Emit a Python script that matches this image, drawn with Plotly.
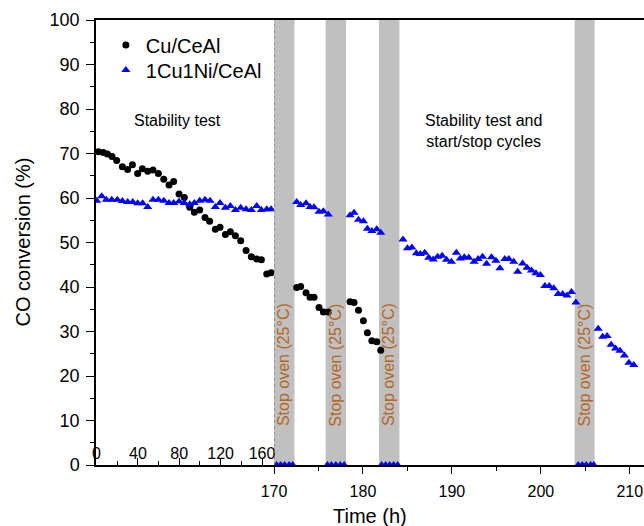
import plotly.graph_objects as go

# ---------------- data ----------------
# Stability test section (0-170 h)
cu_t1 = [1.8, 6.6, 10.5, 15.0, 19.5, 25.0, 30.1, 34.7, 39.8, 44.3, 49.5, 54.6, 59.8, 65.0, 70.1,
         74.6, 79.8, 84.9, 90.1, 94.6, 99.8, 104.9, 109.4, 114.9, 119.4, 124.6, 129.4, 134.3,
         139.4, 144.6, 149.7, 154.9, 159.4, 164.6, 168.8]
cu_v1 = [70.4, 70.2, 69.9, 69.3, 68.4, 67.0, 66.4, 67.5, 65.5, 66.6, 66.0, 66.3, 65.5, 64.2, 62.9,
         63.7, 60.9, 60.1, 57.9, 56.8, 57.3, 55.6, 54.8, 53.0, 53.4, 51.8, 52.4, 51.5,
         50.4, 48.2, 46.8, 46.3, 46.1, 42.9, 43.2]

ni_t1 = [0.2, 5.0, 9.5, 14.7, 20.1, 25.0, 30.1, 35.0, 39.8, 44.6, 49.5, 54.6, 59.8, 65.0, 70.1,
         74.6, 79.8, 84.9, 90.1, 94.6, 99.8, 104.9, 109.8, 114.9, 119.4, 124.6, 129.4, 134.3,
         139.4, 144.6, 149.7, 154.9, 159.4, 164.6, 168.8]
ni_v1 = [59.4, 60.4, 59.6, 59.6, 59.6, 59.3, 59.1, 59.1, 58.8, 58.8, 58.0, 59.6, 59.6, 59.4, 58.9,
         58.9, 59.2, 58.9, 58.6, 58.9, 59.4, 59.6, 59.4, 58.0, 58.9, 57.8, 58.2, 57.3,
         57.8, 57.5, 57.3, 58.2, 57.3, 57.5, 57.5]

# Stability test and start/stop cycles (170-210 h)
cu_t2 = [172.55, 173.0, 173.6, 174.05, 174.5, 175.06, 175.55, 176.1,
         178.55, 179.0, 179.5, 180.05, 180.5, 181.0, 181.55, 182.0]
cu_v2 = [39.9, 40.1, 38.7, 37.7, 37.7, 35.4, 34.4, 34.4,
         36.7, 36.5, 34.8, 32.4, 29.7, 27.9, 27.7, 25.8]

ni_t2 = [172.55, 173.0, 173.6, 174.05, 174.5, 175.06, 175.55, 176.1,
         178.55, 179.0, 179.5, 180.05, 180.5, 181.0, 181.55, 182.0,
         184.5, 185.0, 185.5, 186.0, 186.45, 186.95, 187.4, 187.9, 188.4, 188.9, 189.4, 189.95,
         190.5, 190.95, 191.4, 191.9, 192.5, 192.95, 193.45, 193.9, 194.45, 194.95, 195.4, 195.95,
         196.4, 196.95, 197.4, 197.95, 198.45, 198.95, 199.45, 199.95, 200.45, 200.95, 201.45,
         201.95, 202.45, 202.95, 203.45, 203.95,
         206.45, 206.95, 207.45, 207.9, 208.4, 208.9, 209.4, 209.9, 210.45]
ni_v2 = [59.1, 58.4, 58.8, 58.0, 57.9, 56.9, 57.0, 56.3,
         56.1, 56.7, 55.1, 54.8, 53.1, 52.6, 53.0, 52.2,
         50.7, 48.7, 48.9, 47.6, 47.4, 47.7, 46.6, 46.2, 46.8, 47.0, 46.1, 45.7,
         47.7, 46.4, 46.7, 46.6, 45.7, 46.3, 46.8, 45.2, 46.7, 45.9, 44.2, 46.3,
         46.3, 45.7, 43.4, 45.3, 44.3, 43.7, 43.1, 42.7, 40.2, 40.2, 39.7,
         38.4, 38.4, 38.1, 38.9, 36.5,
         30.6, 28.8, 29.0, 27.0, 26.2, 25.7, 24.6, 23.0, 22.5]

# oven stopped: zero conversion
stop_t = [170.3, 170.75, 171.2, 171.7, 172.1,
          176.0, 176.45, 176.95, 177.45, 177.9,
          182.1, 182.55, 183.0, 183.45, 183.9,
          204.2, 204.65, 205.1, 205.6, 205.95]
stop_v = [0, 0, 0, 0, 0,
          0, 0, 0, 0, 0,
          0, 0, 0, 0, 0,
          0, 0, 0, 0, 0]

band_start = [170.0, 175.8, 181.8, 203.8]
band_end = [172.3, 178.1, 184.1, 206.05]
band_label = "Stop oven (25°C)"

left_ticks = [0, 40, 80, 120, 160]
right_ticks = [170, 180, 190, 200, 210]
y_ticks = [0, 10, 20, 30, 40, 50, 60, 70, 80, 90, 100]

# ---------------- figure ----------------
FONT = "Arial, Liberation Sans, sans-serif"
BLACK = "#000000"
BLUE = "#0000ff"
BROWN = "#b4661f"

fig = go.Figure()

circ = dict(symbol="circle", size=7, color=BLACK)
tri = dict(symbol="triangle-up", size=8, color=BLUE)

fig.add_trace(go.Scatter(x=cu_t1, y=cu_v1, mode="markers", marker=circ, name="Cu/CeAl",
                         xaxis="x", yaxis="y", legend="legend", showlegend=True))
fig.add_trace(go.Scatter(x=ni_t1, y=ni_v1, mode="markers", marker=tri, name="1Cu1Ni/CeAl",
                         xaxis="x", yaxis="y", legend="legend2", showlegend=True))
fig.add_trace(go.Scatter(x=cu_t2, y=cu_v2, mode="markers", marker=circ, name="Cu/CeAl",
                         xaxis="x2", yaxis="y", showlegend=False))
fig.add_trace(go.Scatter(x=ni_t2, y=ni_v2, mode="markers", marker=tri, name="1Cu1Ni/CeAl",
                         xaxis="x2", yaxis="y", showlegend=False))
fig.add_trace(go.Scatter(x=stop_t, y=stop_v, mode="markers", marker=tri, name="1Cu1Ni/CeAl",
                         xaxis="x2", yaxis="y", showlegend=False))
# empty helper trace so the tick-label axis for the 0-170 h segment is drawn
fig.add_trace(go.Scatter(x=[None], y=[None], mode="markers", xaxis="x3", yaxis="y",
                         showlegend=False, hoverinfo="skip"))

shapes = []
for s, e in zip(band_start, band_end):
    shapes.append(dict(type="rect", xref="x2", yref="paper", x0=s, x1=e, y0=0, y1=1,
                       fillcolor="#c0c0c0", line=dict(width=0), layer="below"))
shapes.append(dict(type="line", xref="x2", yref="paper", x0=170, x1=170, y0=0, y1=1,
                   line=dict(color="#808080", width=1.5, dash="dot"), layer="above"))

annotations = [
    dict(text="Stability test", x=78, y=77.4, xref="x", yref="y", showarrow=False,
         font=dict(family=FONT, size=16, color=BLACK)),
    dict(text="Stability test and<br>start/stop cycles", x=193.5, y=75, xref="x2", yref="y",
         showarrow=False, font=dict(family=FONT, size=16, color=BLACK)),
    dict(text="Time (h)", x=0.5, y=-51 / 445, xref="paper", yref="paper", showarrow=False,
         xanchor="center", yanchor="middle", font=dict(family=FONT, size=20, color=BLACK)),
    dict(text="CO conversion (%)", x=-74 / 548, y=0.5, xref="paper", yref="paper", showarrow=False,
         xanchor="center", yanchor="middle", textangle=-90,
         font=dict(family=FONT, size=20, color=BLACK)),
]
for s, e in zip(band_start, band_end):
    annotations.append(dict(text=band_label, x=(s + e) / 2, y=22.5, xref="x2", yref="y",
                            textangle=-90, showarrow=False,
                            font=dict(family=FONT, size=16, color=BROWN)))

split = (274 - 96) / 548.0

fig.update_layout(
    width=644, height=526,
    margin=dict(l=96, r=0, t=20, b=61, autoexpand=False),
    paper_bgcolor="white", plot_bgcolor="white",
    font=dict(family=FONT, color=BLACK),
    shapes=shapes, annotations=annotations,
    showlegend=True,
    legend=dict(x=0.018, y=(465 - 45) / 445, xanchor="left", yanchor="middle",
                font=dict(family=FONT, size=20, color=BLACK), bgcolor="rgba(0,0,0,0)"),
    legend2=dict(x=0.018, y=(465 - 70) / 445, xanchor="left", yanchor="middle",
                 font=dict(family=FONT, size=20, color=BLACK), bgcolor="rgba(0,0,0,0)"),
    xaxis=dict(domain=[0, split], range=[-0.5, 171.6], anchor="y", automargin=False,
               tickmode="array", tickvals=left_ticks, ticks="inside", ticklen=7,
               tickwidth=1.2, tickcolor=BLACK, showticklabels=False,
               minor=dict(dtick=20, tick0=0, ticks="inside", ticklen=4, tickcolor=BLACK, tickwidth=1.2),
               showline=True, linecolor=BLACK, linewidth=1.5, mirror=True,
               showgrid=False, zeroline=False),
    xaxis3=dict(overlaying="x", range=[-0.5, 171.6], anchor="free", position=0.051,
                automargin=False, tickmode="array", tickvals=left_ticks, ticks="",
                tickfont=dict(family=FONT, size=16, color=BLACK),
                showline=False, showgrid=False, zeroline=False),
    xaxis2=dict(domain=[split, 1], range=[170, 211.6], anchor="y", automargin=False,
                tickmode="array", tickvals=right_ticks, ticks="outside", ticklen=7,
                tickwidth=1.2, tickcolor=BLACK,
                tickfont=dict(family=FONT, size=16, color=BLACK),
                ticklabelstandoff=4,
                minor=dict(dtick=5, tick0=170, ticks="outside", ticklen=4, tickcolor=BLACK, tickwidth=1.2),
                showline=True, linecolor=BLACK, linewidth=1.5, mirror=True,
                showgrid=False, zeroline=False),
    yaxis=dict(range=[0, 100], anchor="x", automargin=False, tickmode="array", tickvals=y_ticks,
               ticks="outside", ticklen=8, tickwidth=1.2, tickcolor=BLACK,
               tickfont=dict(family=FONT, size=18, color=BLACK),
               ticklabelstandoff=3,
               minor=dict(dtick=5, tick0=0, ticks="outside", ticklen=4, tickcolor=BLACK, tickwidth=1.2),
               showline=True, linecolor=BLACK, linewidth=1.5,
               showgrid=False, zeroline=False),
)

fig.write_html("out.html", config={"displayModeBar": False},
               post_script="document.body.style.margin='0';")
